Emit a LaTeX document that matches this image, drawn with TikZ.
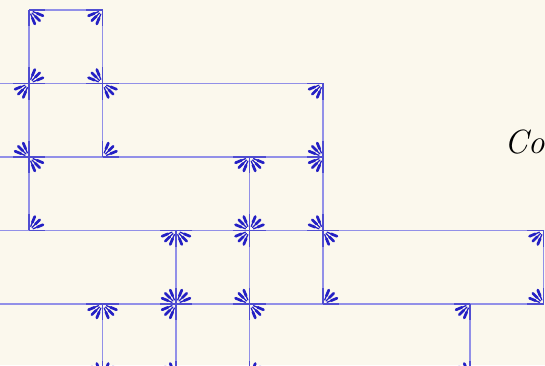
\documentclass[tikz,border=0pt]{standalone}
\usepackage{tikz}
\usetikzlibrary{calc}
\definecolor{paper}{RGB}{251,248,237}
\definecolor{edgeblue}{RGB}{146,144,232}
\definecolor{fanblue}{RGB}{36,32,196}

\newcommand{\cornerfan}[2]{%
  \draw[spokeedge] (#1) -- ($(#1)+(#2:0.22)$);
  \draw[spokeedge] (#1) -- ($(#1)+(#2+90:0.22)$);
  \foreach \d in {22.5,45,67.5} {
    \draw[spoke] ($(#1)+(#2+\d:0.06)$) -- ($(#1)+(#2+\d:0.21)$);
    \draw[spoketip] ($(#1)+(#2+\d:0.12)$) -- ($(#1)+(#2+\d:0.205)$);
  }}

\begin{document}
\begin{tikzpicture}[
  edge/.style={edgeblue, line width=0.65pt},
  spoke/.style={fanblue, line width=0.5pt, line cap=round},
  spoketip/.style={fanblue, line width=1.05pt, line cap=round},
  spokeedge/.style={fanblue!60!edgeblue, line width=0.7pt}]
  \useasboundingbox (-0.395,-0.83) rectangle (7.02,4.136);
  \fill[paper] (-0.395,-0.83) rectangle (7.02,4.136);
  \clip (-0.395,-0.83) rectangle (7.02,4.136);

  \foreach \i in {0,...,7}
    \foreach \j in {-1,...,4}
      \coordinate (g\i\j) at (\i,\j);
  \foreach \j in {0,...,3}
    \coordinate (w\j) at (-0.6,\j);

  \draw[edge] (g04) -- (g14);
  \draw[edge] (w3) -- (g43);
  \draw[edge] (w2) -- (g42);
  \draw[edge] (w1) -- (g71);
  \draw[edge] (w0) -- (g70);
  \draw[edge] (g04) -- (g01);
  \draw[edge] (g14) -- (g12);
  \draw[edge] (g43) -- (g40);
  \draw[edge] (g32) -- (g3-1);
  \draw[edge] (g21) -- (g2-1);
  \draw[edge] (g10) -- (g1-1);
  \draw[edge] (g60) -- (g6-1);
  \draw[edge] (g71) -- (g70);

  \foreach \v/\q in {g04/270, g14/180,
      g03/0, g03/180, g13/90, g13/270, g43/180,
      g02/90, g02/270, g12/0, g32/180, g32/270, g42/90, g42/180,
      g01/0, g21/180, g21/270, g31/0, g31/90, g31/180,
      g41/90, g41/270, g71/180,
      g10/180, g10/270, g20/0, g20/90, g20/180,
      g30/90, g30/270, g40/0, g60/180, g70/90,
      g1-1/0, g1-1/90, g2-1/90, g3-1/0, g6-1/90}
    {\cornerfan{\v}{\q}}

  \node[font=\fontsize{13}{15}\selectfont, anchor=base west, inner sep=0pt] (lbl) at (6.46,2.054) {\textit{Co}};
\end{tikzpicture}
\end{document}
